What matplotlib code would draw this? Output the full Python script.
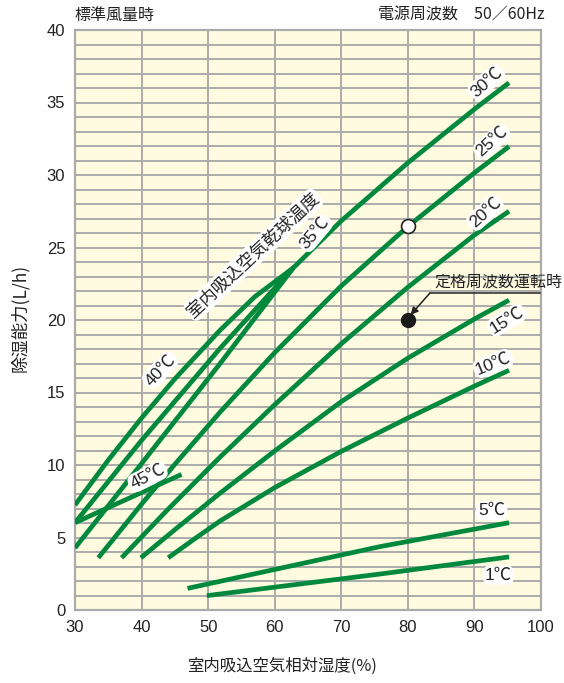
import matplotlib
matplotlib.use("Agg")
import matplotlib.pyplot as plt
from matplotlib.patches import FancyArrowPatch

plt.rcParams['font.family'] = ['Liberation Sans', 'Noto Sans CJK JP', 'DejaVu Sans']

# ---- data ----
c1_x = [49.8, 75.8, 95.2]
c1_y = [0.99, 2.48, 3.66]
c5_x = [46.9, 75.8, 95.2]
c5_y = [1.49, 4.37, 6.02]
c10_x = [44.0, 48.0, 51.8, 60.0, 70.0, 80.0, 90.0, 95.2]
c10_y = [3.6, 4.92, 6.14, 8.44, 10.94, 13.24, 15.44, 16.53]
c15_x = [39.9, 45.0, 51.8, 60.0, 70.0, 80.0, 90.0, 95.2]
c15_y = [3.6, 5.54, 8.06, 10.97, 14.37, 17.37, 20.07, 21.37]
c20_x = [37.0, 44.0, 51.8, 60.0, 70.0, 80.0, 90.0, 95.2]
c20_y = [3.6, 6.96, 10.55, 14.16, 18.36, 22.26, 25.86, 27.5]
c25_x = [33.5, 40.0, 45.0, 51.8, 60.0, 70.0, 80.0, 90.0, 95.2]
c25_y = [3.6, 7.3, 10.05, 13.65, 17.75, 22.35, 26.45, 30.15, 31.97]
c30_x = [30.0, 40.0, 51.8, 62.8, 70.0, 80.0, 90.0, 95.2]
c30_y = [4.28, 10.1, 17.0, 23.6, 26.84, 30.84, 34.54, 36.36]
c35_x = [30.0, 40.0, 51.8, 62.8]
c35_y = [6.02, 11.7, 18.05, 23.6]
c40_x = [30.0, 35.0, 40.0, 45.0, 51.8, 57.0, 62.8]
c40_y = [7.24, 10.34, 13.24, 15.94, 19.3, 21.6, 23.6]
c45_x = [30.0, 46.0]
c45_y = [6.02, 9.35]

curves = [(c1_x, c1_y), (c5_x, c5_y), (c10_x, c10_y), (c15_x, c15_y),
          (c20_x, c20_y), (c25_x, c25_y), (c30_x, c30_y), (c35_x, c35_y),
          (c40_x, c40_y), (c45_x, c45_y)]

rated_open = (80, 26.5)
rated_filled = (80, 20.0)

x_ticks = [30, 40, 50, 60, 70, 80, 90, 100]
y_ticks = [0, 5, 10, 15, 20, 25, 30, 35, 40]

# ---- figure ----
W, H = 564, 683
fig = plt.figure(figsize=(W / 100, H / 100), dpi=100)
ax = fig.add_axes([75 / W, (H - 610) / H, 466 / W, 580 / H])
ax.set_facecolor('#fefbe1')
ax.set_xlim(30, 100)
ax.set_ylim(0, 40)

grid_c = '#ababab'
for yy in range(1, 40):
    ax.axhline(yy, color=grid_c, lw=1.4, zorder=1)
for xx in range(40, 100, 10):
    ax.axvline(xx, color=grid_c, lw=1.4, zorder=1)
for s in ax.spines.values():
    s.set_color(grid_c)
    s.set_linewidth(1.6)

ax.set_xticks(x_ticks)
ax.set_yticks(y_ticks)
ax.tick_params(length=0, labelsize=12, colors='#222222', pad=7)

green = '#00893c'
for xs, ys in curves:
    ax.plot(xs, ys, color=green, lw=3.4, solid_capstyle='butt',
            solid_joinstyle='round', zorder=3)

ax.plot(*rated_open, marker='o', ms=10, mfc='white', mec='#222222', mew=1.2, zorder=5)
ax.plot(*rated_filled, marker='o', ms=10, mfc='#1a1a1a', mec='#1a1a1a', zorder=5)

box = dict(boxstyle='round,pad=0.12,rounding_size=0.45', fc='white', ec='none')
labels = [
    ('30℃', 91.8, 36.4, 42),
    ('25℃', 92.6, 32.3, 42),
    ('20℃', 91.6, 27.4, 42),
    ('15℃', 94.85, 20.0, 32),
    ('10℃', 92.8, 17.0, 22),
    ('5℃', 92.6, 6.85, 0),
    ('1℃', 93.6, 2.41, 0),
    ('45℃', 40.9, 9.2, 27),
    ('40℃', 42.8, 16.55, 47),
    ('35℃', 66.05, 26.0, 50),
]
for t, x, y, r in labels:
    ax.text(x, y, t, rotation=r, ha='center', va='center', fontsize=12.5,
            color='#222222', bbox=box, zorder=6, rotation_mode='anchor')

ax.text(56.8, 24.5, '室内吸込空気乾球温度', rotation=43, ha='center', va='center',
        fontsize=12.5, color='#222222', bbox=box, zorder=6, rotation_mode='anchor',
        family=['Noto Sans CJK JP'])

# rated annotation
ax.text(93.6, 22.6, '定格周波数運転時', ha='center', va='center', fontsize=11.5,
        color='#222222', zorder=6, family=['Noto Sans CJK JP'])
ax.plot([83.3, 99.85], [21.85, 21.85], color='#222222', lw=1.1, zorder=6, clip_on=False)
arr = FancyArrowPatch((83.3, 21.85), (80.4, 20.35), arrowstyle='-|>', mutation_scale=11,
                      color='#222222', lw=1.1, zorder=6, shrinkA=0, shrinkB=0)
ax.add_patch(arr)

fig.text(74 / W, 1 - 15 / H, '標準風量時', ha='left', va='center', fontsize=11.5,
         color='#222222', family=['Noto Sans CJK JP'])
fig.text(545 / W, 1 - 15 / H, '電源周波数　50／60Hz', ha='right', va='center', fontsize=11.5,
         color='#222222', family=['Noto Sans CJK JP', 'Liberation Sans'])
fig.text(282 / W, 1 - 666 / H, '室内吸込空気相対湿度(%)', ha='center', va='center',
         fontsize=11.8, color='#222222', family=['Noto Sans CJK JP'])
fig.text(20 / W, 1 - 318 / H, '除湿能力(L/h)', ha='center', va='center', rotation=90,
         fontsize=12.5, color='#222222', family=['Noto Sans CJK JP'])

fig.savefig('out.png', dpi=100)
